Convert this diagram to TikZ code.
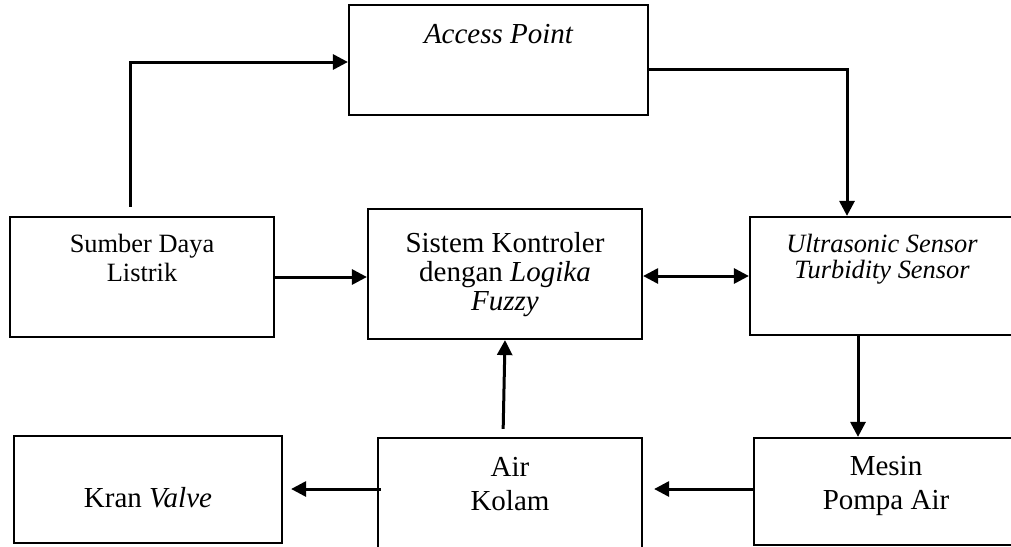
\documentclass[tikz,border=0pt]{standalone}
\usepackage{fontspec}
\setmainfont{Liberation Serif}
\usetikzlibrary{arrows.meta}
\newcommand{\bigf}{\fontsize{14.5}{16}\selectfont}
\newcommand{\smallf}{\fontsize{13.2}{15}\selectfont}
\tikzset{
  box/.style={draw, line width=1.1pt, rectangle, inner sep=0pt},
  txt/.style={anchor=base, inner sep=0pt},
  arr/.style={line width=1.5pt, -{Triangle[length=7.5pt,width=7.5pt]}},
  darr/.style={line width=1.5pt, {Triangle[length=7.5pt,width=7.5pt]}-{Triangle[length=7.5pt,width=7.5pt]}}
}
\begin{document}
\begin{tikzpicture}[x=0.5pt,y=-0.5pt]
\useasboundingbox (0,0) rectangle (1011,546);
\clip (0,0) rectangle (1011,546);
% boxes
\node[box, minimum width=149.5pt, minimum height=55pt] (ap) at (498.5,60) {};
\node[box, minimum width=132pt, minimum height=60pt] (sd) at (142,277) {};
\node[box, minimum width=137pt, minimum height=65pt] (sk) at (505,274) {};
\node[box, minimum width=132pt, minimum height=59pt] (us) at (882,276) {};
\node[box, minimum width=134pt, minimum height=53.5pt] (kv) at (148,489.5) {};
\node[box, minimum width=132pt, minimum height=56pt] (ak) at (510,494) {};
\node[box, minimum width=132pt, minimum height=53.5pt] (mp) at (886,491.5) {};
% texts
\node[txt] (apt) at (498.5,43) {\bigf\itshape Access Point};
\node[txt] (sdt1) at (142,252) {\smallf Sumber Daya};
\node[txt] (sdt2) at (142,281) {\smallf Listrik};
\node[txt] (skt1) at (505,252) {\bigf Sistem Kontroler};
\node[txt] (skt2) at (505,281) {\bigf dengan \textit{Logika}};
\node[txt] (skt3) at (505,310) {\bigf\itshape Fuzzy};
\node[txt] (ust1) at (882,252) {\smallf\itshape Ultrasonic Sensor};
\node[txt] (ust2) at (882,278) {\smallf\itshape Turbidity Sensor};
\node[txt] (kvt) at (148,507) {\bigf Kran \textit{Valve}};
\node[txt] (akt1) at (510,476) {\bigf Air};
\node[txt] (akt2) at (510,510) {\bigf Kolam};
\node[txt] (mpt1) at (886,475) {\bigf Mesin};
\node[txt] (mpt2) at (886,509) {\bigf Pompa Air};
% helper coordinates
\coordinate (c1) at (130,62);
\coordinate (c2) at (847,69);
\coordinate (c3) at (858,0);
\coordinate (c4) at (0,489);
% connectors
\draw[arr, shorten <=4.5pt] (sd.north -| c1) |- (ap.west |- c1);
\draw[arr] (ap.east |- c2) -| (us.north -| c2);
\draw[arr] (sd.east) -- (sd.east -| sk.west);
\draw[darr] (sk.east |- us.west) -- (us.west);
\draw[arr] (us.south -| c3) -- (mp.north -| c3);
\draw[arr, shorten <=4pt] ([xshift=-3.5pt]ak.north) -- (sk.south);
\draw[arr, shorten >=5.5pt] (mp.west |- c4) -- (ak.east |- c4);
\draw[arr, shorten <=-2pt, shorten >=4pt] (ak.west |- c4) -- (kv.east |- c4);
\end{tikzpicture}
\end{document}
